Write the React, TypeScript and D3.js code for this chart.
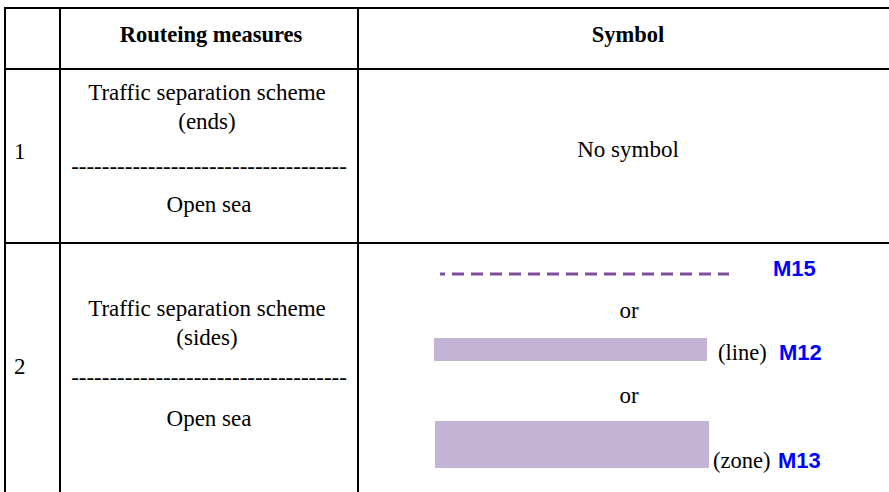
import React, { useEffect, useRef } from "react";
import * as d3 from "d3";

const WIDTH = 889;
const HEIGHT = 492;

const headers = ["", "Routeing measures", "Symbol"];
const rowNumbers = ["1", "2"];
const rowMeasures = [
  ["Traffic separation scheme", "(ends)"],
  ["Traffic separation scheme", "(sides)"],
];
const seaLabel = "Open sea";
const noSymbolText = "No symbol";
const orText = "or";
const symbolCaptions = ["", "(line)", "(zone)"];
const symbolCodes = ["M15", "M12", "M13"];

const SERIF = "'Liberation Serif', 'Times New Roman', serif";
const SANS = "'Liberation Sans', Arial, sans-serif";
const LAV = "#c3b3d4";
const PURPLE = "#7e4e9c";
const BLUE = "#0000ff";

const App = () => {
  const svgRef = useRef<SVGSVGElement>(null);

  useEffect(() => {
    const svg = d3.select(svgRef.current);
    svg.selectAll("*").remove();

    // column edges and row edges
    const colX = [5, 60, 358, WIDTH];
    const rowY = [8, 69, 243, HEIGHT + 2];
    const colMid = (i: number) => (colX[i] + colX[i + 1]) / 2;

    const grid = svg.append("g").attr("stroke", "#000").attr("stroke-width", 2);
    grid
      .selectAll("line.h")
      .data(rowY.slice(0, 3))
      .join("line")
      .attr("class", "h")
      .attr("x1", colX[0] - 1)
      .attr("x2", WIDTH)
      .attr("y1", (d) => d)
      .attr("y2", (d) => d);
    grid
      .selectAll("line.v")
      .data(colX.slice(0, 3))
      .join("line")
      .attr("class", "v")
      .attr("x1", (d) => d)
      .attr("x2", (d) => d)
      .attr("y1", rowY[0])
      .attr("y2", HEIGHT);

    const text = (x: number, y: number, s: string, opts: any = {}) =>
      svg
        .append("text")
        .attr("x", x)
        .attr("y", y)
        .attr("font-family", opts.family || SERIF)
        .attr("font-size", opts.size || 23)
        .attr("font-weight", opts.weight || "normal")
        .attr("fill", opts.fill || "#000")
        .attr("text-anchor", opts.anchor || "middle")
        .text(s);

    // header
    text(colMid(1) + 2, 42, headers[1], { weight: "bold", size: 22.5 });
    text(628, 42, headers[2], { weight: "bold", size: 22.5 });

    const dashes = "-".repeat(36);

    // left side of the rows: number, measure, divider, open sea
    const leftBase = [
      { num: 159, lines: [100, 129], dash: 174, sea: 212 },
      { num: 374, lines: [316, 345], dash: 385, sea: 426 },
    ];
    leftBase.forEach((b, i) => {
      text(14, b.num, rowNumbers[i], { anchor: "start" });
      rowMeasures[i].forEach((s, j) => text(colMid(1) - 2, b.lines[j], s));
      text(colMid(1), b.dash, dashes);
      text(colMid(1), b.sea, seaLabel);
    });

    // row 1 symbol
    text(628, 157, noSymbolText);

    // row 2 symbols
    const x = d3.scaleLinear().domain([0, 1]).range([440, 729]);
    svg
      .append("line")
      .attr("x1", x(0))
      .attr("x2", x(1))
      .attr("y1", 274)
      .attr("y2", 274)
      .attr("stroke", PURPLE)
      .attr("stroke-width", 3)
      .attr("stroke-dasharray", "12 7")
      .attr("stroke-dashoffset", 7);

    const bars = [
      { x0: 434, x1: 707, y0: 338, y1: 361 },
      { x0: 435, x1: 709, y0: 421, y1: 468 },
    ];
    svg
      .selectAll("rect.sym")
      .data(bars)
      .join("rect")
      .attr("class", "sym")
      .attr("x", (d) => d.x0)
      .attr("y", (d) => d.y0)
      .attr("width", (d) => d.x1 - d.x0)
      .attr("height", (d) => d.y1 - d.y0)
      .attr("fill", LAV);

    text(629, 318, orText);
    text(629, 403, orText);

    const captionPos = [
      { cx: 0, cy: 276, mx: 773 },
      { cx: 718, cy: 360, mx: 779 },
      { cx: 713, cy: 468, mx: 778 },
    ];
    captionPos.forEach((p, i) => {
      if (symbolCaptions[i])
        text(p.cx, p.cy, symbolCaptions[i], { anchor: "start", size: 22.5 });
      text(p.mx, p.cy, symbolCodes[i], {
        anchor: "start",
        family: SANS,
        weight: "bold",
        fill: BLUE,
        size: 22,
      });
    });
  }, []);

  return (
    <svg
      ref={svgRef}
      width={WIDTH}
      height={HEIGHT}
      style={{ position: "absolute", left: 0, top: 0, background: "#fff" }}
    />
  );
};

export default App;
